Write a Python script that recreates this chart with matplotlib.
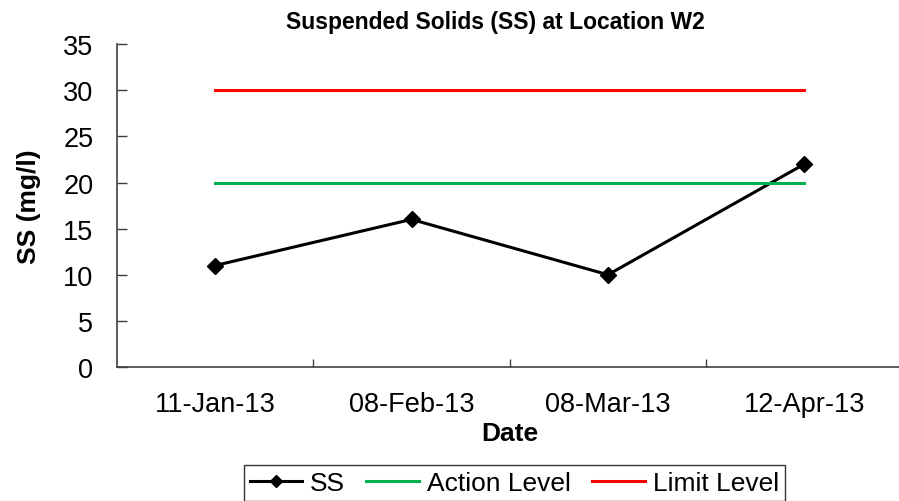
import matplotlib.pyplot as plt

plt.rcParams['font.family'] = ['Liberation Sans', 'DejaVu Sans']

dates = ['11-Jan-13', '08-Feb-13', '08-Mar-13', '12-Apr-13']
ss = [11, 16, 10, 22]
action_level = [20, 20, 20, 20]
limit_level = [30, 30, 30, 30]

fig = plt.figure(figsize=(8.99, 5.02), dpi=100)
ax = fig.add_axes([0.130, 0.267, 0.874, 0.643])

x = range(len(dates))
ax.plot(x, ss, color='black', lw=2.2, marker='D', ms=8.5, label='SS')
ax.plot(x, action_level, color='#00b050', lw=2.2, label='Action Level')
ax.plot(x, limit_level, color='#ff0000', lw=2.2, label='Limit Level')

ax.set_xlim(-0.5, 3.5)
ax.set_ylim(0, 35)
ax.set_yticks(range(0, 36, 5))
ax.set_xticks(x)
ax.set_xticklabels(dates)
ax.set_xticks([0.5, 1.5, 2.5], minor=True)
ax.tick_params(axis='x', which='major', length=0, pad=17, labelsize=19.5)
ax.tick_params(axis='x', which='minor', direction='in', length=6, width=1, color='#404040')
ax.tick_params(axis='y', direction='in', length=7, width=1, color='#404040', pad=17, labelsize=19.5)
for s in ['top', 'right']:
    ax.spines[s].set_visible(False)
for s in ['left', 'bottom']:
    ax.spines[s].set_color('#404040')
    ax.spines[s].set_linewidth(1.2)

ax.set_title('Suspended Solids (SS) at Location W2', fontsize=16.5, fontweight='bold',
             pad=12, x=0.482)
ax.set_xlabel('Date', fontsize=19, fontweight='bold', labelpad=3)
ax.set_ylabel('SS (mg/l)', fontsize=19, fontweight='bold', labelpad=16)

leg = fig.legend(loc='center', bbox_to_anchor=(0.572, 0.036), ncol=3, fontsize=19,
                 frameon=True, fancybox=False, edgecolor='black', handlelength=2.0,
                 borderpad=0.22, columnspacing=0.8, handletextpad=0.3, borderaxespad=0,
                 markerscale=0.7)
leg.get_frame().set_linewidth(1.0)

fig.savefig('out.png', dpi=100)
